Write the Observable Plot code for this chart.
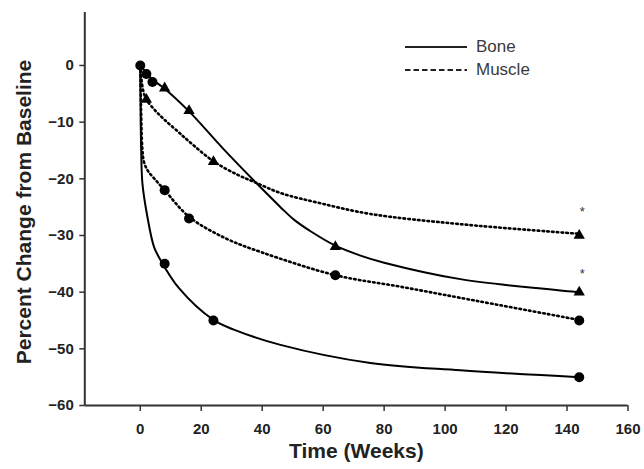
<!DOCTYPE html>
<html><head><meta charset="utf-8">
<script src="https://cdn.jsdelivr.net/npm/d3@7"></script>
<script src="https://cdn.jsdelivr.net/npm/@observablehq/plot@0.6"></script>
<style>
html,body{margin:0;padding:0;background:#fff;}
#wrap{position:relative;width:644px;height:469px;}
#legend{position:absolute;left:405px;top:35px;font-family:"Liberation Sans",Arial,sans-serif;font-size:17px;color:#3a3a3a;line-height:23.3px;}
#legend .row{display:flex;align-items:center;height:23.3px;}
#legend svg{margin-right:9px;}
</style></head><body><div id="wrap"></div>
<script>
// ---- data ----
const xDomain = [-18.2, 160];
const yDomain = [-60, 9.35];
const xTicks = [0, 20, 40, 60, 80, 100, 120, 140, 160];
const yTicks = [-60, -50, -40, -30, -20, -10, 0];
const xLabel = "Time (Weeks)";
const yLabel = "Percent Change from Baseline";
const legendNames = ["Bone", "Muscle"];

// fitted curves (Bone = solid, Muscle = dotted)
const boneCircleCurveX = [0, 0.1, 0.3, 0.7, 2.3, 4.5, 6.5, 12.7, 24, 30.7, 46, 75.5, 105, 144];
const boneCircleCurveY = [0, -8, -15, -20.8, -26.6, -32, -34.2, -39.3, -44.9, -46.6, -49.3, -52.5, -53.8, -55];
const boneTriCurveX = [0, 2, 4, 8, 16, 27.4, 38, 46, 50.4, 56, 64, 72, 80, 105, 144];
const boneTriCurveY = [0, -1.3, -2.5, -4.1, -8.1, -14.8, -20.7, -25, -27.2, -29.3, -31.8, -33.5, -34.8, -37.7, -40];
const muscleCircleCurveX = [0, 0.2, 0.4, 0.7, 1.2, 2.5, 4.5, 8, 16, 28, 40, 64, 85, 105, 144];
const muscleCircleCurveY = [0, -6, -11, -14.9, -17, -18.6, -19.9, -22, -26.7, -30.5, -33, -37, -39, -41, -44.9];
const muscleTriCurveX = [0, 0.3, 1, 2, 5, 8, 12, 16, 24, 32, 38, 46, 59, 75.5, 105, 144];
const muscleTriCurveY = [0, -2, -4.5, -6, -8, -9.6, -11.5, -13.4, -16.9, -19.3, -20.7, -22.5, -24.3, -26.2, -28, -29.7];

// markers
const circleX = [0, 2, 4, 8, 24, 144, 8, 16, 64, 144];
const circleY = [0, -1.5, -2.9, -35, -45, -55, -22, -27, -37, -45];
const triangleX = [8, 16, 64, 144, 2, 24, 144];
const triangleY = [-4, -8, -32, -40, -6, -17, -30];
const starX = [145, 145];
const starY = [-25.9, -36.8];

// ---- build ----
const zip = (xs, ys) => xs.map((x, i) => ({x, y: ys[i]}));
const solidCurves = [zip(boneCircleCurveX, boneCircleCurveY), zip(boneTriCurveX, boneTriCurveY)];
const dottedCurves = [zip(muscleCircleCurveX, muscleCircleCurveY), zip(muscleTriCurveX, muscleTriCurveY)];
const circles = zip(circleX, circleY);
const triangles = zip(triangleX, triangleY);
const stars = zip(starX, starY);

const font = "Liberation Sans, Arial, sans-serif";
const marks = [
  Plot.axisX({ticks: xTicks, tickSize: 6, tickPadding: 12, fontSize: 15, fontWeight: "bold", label: null, stroke: "#333", strokeWidth: 1.5, fill: "#222"}),
  Plot.axisY({ticks: yTicks, tickSize: 5, tickPadding: 6, fontSize: 15, fontWeight: "bold", label: null, stroke: "#333", strokeWidth: 1.5, fill: "#222"}),
  Plot.ruleY([yDomain[0]], {x1: xDomain[0], x2: xDomain[1], stroke: "#333", strokeWidth: 2}),
  Plot.ruleX([xDomain[0]], {y1: yDomain[0], y2: yDomain[1], stroke: "#333", strokeWidth: 2}),
];
for (const c of solidCurves) marks.push(Plot.line(c, {x: "x", y: "y", curve: "catmull-rom", stroke: "black", strokeWidth: 2}));
for (const c of dottedCurves) marks.push(Plot.line(c, {x: "x", y: "y", curve: "catmull-rom", stroke: "black", strokeWidth: 2.6, strokeDasharray: "1.6,3.2"}));
marks.push(
  Plot.dot(circles, {x: "x", y: "y", r: 5, fill: "black", symbol: "circle"}),
  Plot.dot(triangles, {x: "x", y: "y", r: 4.2, fill: "black", symbol: "triangle"}),
  Plot.text(stars, {x: "x", y: "y", text: () => "*", fontSize: 13, fill: "#333"}),
  Plot.text([xLabel], {text: d => d, frameAnchor: "bottom", dy: 52, fontSize: 21, fontWeight: "bold", fill: "#222"}),
  Plot.text([yLabel], {text: d => d, frameAnchor: "left", textAnchor: "middle", dx: -61, dy: 3, rotate: -90, fontSize: 21, fontWeight: "bold", fill: "#222"})
);

const plot = Plot.plot({
  width: 644, height: 469,
  marginLeft: 84.3, marginRight: 16.5, marginTop: 12, marginBottom: 64,
  style: {fontFamily: font, background: "white", overflow: "visible"},
  x: {domain: xDomain},
  y: {domain: yDomain},
  marks
});
const wrap = document.getElementById("wrap");
wrap.appendChild(plot);

// legend
const legend = document.createElement("div");
legend.id = "legend";
legendNames.forEach((name, i) => {
  const row = document.createElement("div");
  row.className = "row";
  const dash = i === 0 ? "" : ' stroke-dasharray="5.5,3"';
  row.innerHTML = `<svg width="62" height="6"><line x1="0" y1="3" x2="62" y2="3" stroke="#222" stroke-width="2.2"${dash}/></svg><span>${name}</span>`;
  legend.appendChild(row);
});
wrap.appendChild(legend);
</script></body></html>
